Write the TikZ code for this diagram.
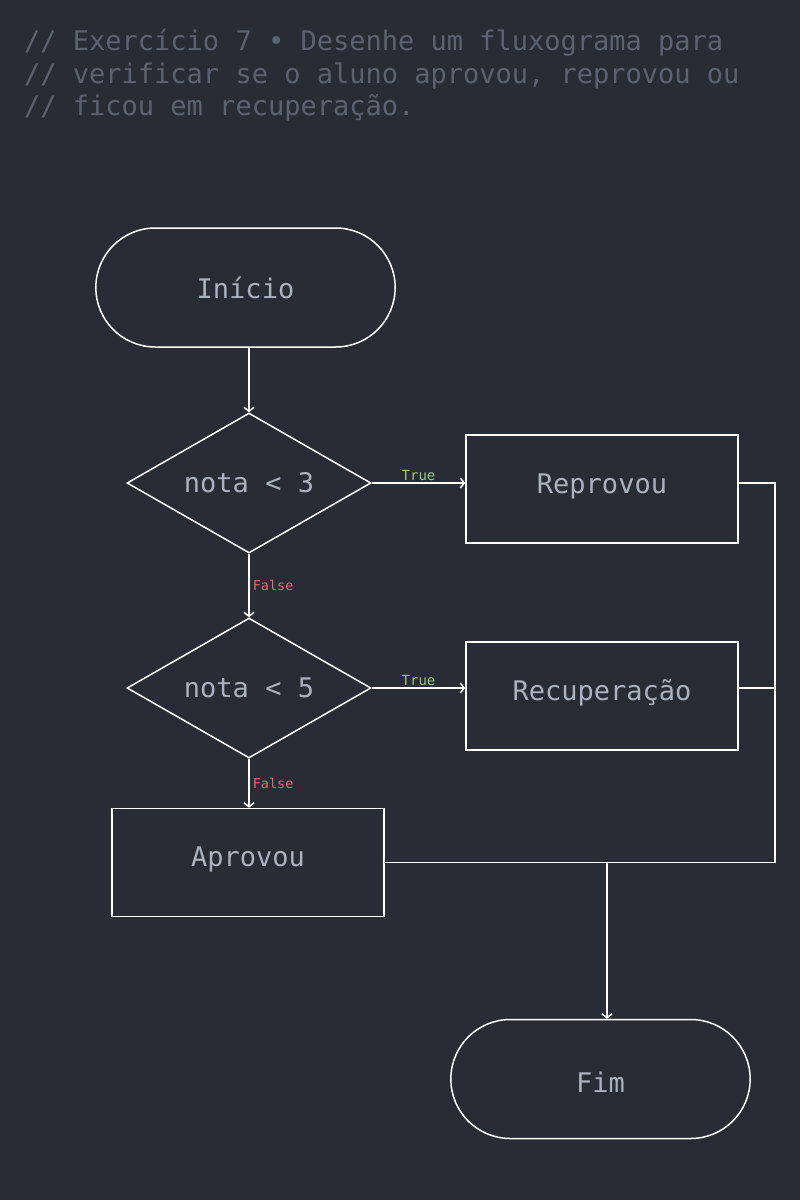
\documentclass[tikz,border=0pt]{standalone}
\usepackage{fontspec}
\setmonofont{DejaVu Sans Mono}
\usetikzlibrary{shapes.geometric,shapes.misc,arrows.meta}
\definecolor{bgdark}{HTML}{282C34}
\definecolor{comment}{HTML}{5C6370}
\definecolor{fgtext}{HTML}{ABB2BF}
\definecolor{yesgreen}{HTML}{98C379}
\definecolor{nored}{HTML}{E06C75}
\begin{document}
\begin{tikzpicture}[
    x=1pt, y=-1pt,
    every node/.style={font=\ttfamily\fontsize{27}{32}\selectfont, text=fgtext},
    terminal/.style={rounded rectangle, draw=white, line width=1.5pt, minimum width=306pt, minimum height=119pt},
    decision/.style={diamond, draw=white, line width=1.5pt, aspect=1.743, minimum width=244pt, minimum height=140pt, inner sep=0pt},
    process/.style={rectangle, draw=white, line width=1.5pt, minimum width=272pt, minimum height=108pt, text height=19.7pt, text depth=11pt},
    remark/.style={anchor=base west, inner sep=0pt, text=comment},
    yes/.style={font=\ttfamily\fontsize{14}{16}\selectfont, text=yesgreen, above, inner sep=2pt},
    no/.style={font=\ttfamily\fontsize{13.5}{16}\selectfont, text=nored, right, inner sep=3pt},
    arrow/.style={white, line width=1.5pt, -{Straight Barb[length=4pt,width=10pt]}},
    line/.style={white, line width=1.5pt}
]
    \fill[bgdark] (0,0) rectangle (800,1200);
    \useasboundingbox (0,0) rectangle (800,1200);

    % Comment
    \node [remark] (c1) at (24,50) {// Exercício 7 • Desenhe um fluxograma para};
    \node [remark] (c2) at (24,83) {// verificar se o aluno aprovou, reprovou ou};
    \node [remark] (c3) at (24,115) {// ficou em recuperação.};

    % Nodes
    \node [terminal] (inicio) at (245.5,287.5) {Início};
    \node [decision] (nota3) at (249,483) {nota < 3};
    \node [process] (reprovou) at (602,489) {Reprovou};
    \node [decision] (nota5) at (249,688) {nota < 5};
    \node [process] (recup) at (602,696) {Recuperação};
    \node [process] (aprovou) at (248,862.5) {Aprovou};
    \node [terminal, text height=26pt] (fim) at (600.5,1079) {Fim};
    \coordinate (bus) at (775,862.5);
    \coordinate (join) at (607,862.5);

    % Arrows
    \draw [arrow] (nota3.north |- inicio.south) -- (nota3.north);
    \draw [arrow] (nota3.east) -- node [yes] {True} (reprovou.west |- nota3.east);
    \draw [arrow] (nota3.south) -- node [no] {False} (nota5.north);
    \draw [arrow] (nota5.east) -- node [yes] {True} (recup.west |- nota5.east);
    \draw [arrow] (nota5.south) -- node [no] {False} (aprovou.north -| nota5.south);

    % Joining lines
    \draw [line] (reprovou.east |- nota3.east) -- (bus |- nota3.east) -- (bus);
    \draw [line] (recup.east |- nota5.east) -- (bus |- nota5.east);
    \draw [line] (aprovou.east) -- (bus);
    \draw [arrow] (join) -- (join |- fim.north);
\end{tikzpicture}
\end{document}
